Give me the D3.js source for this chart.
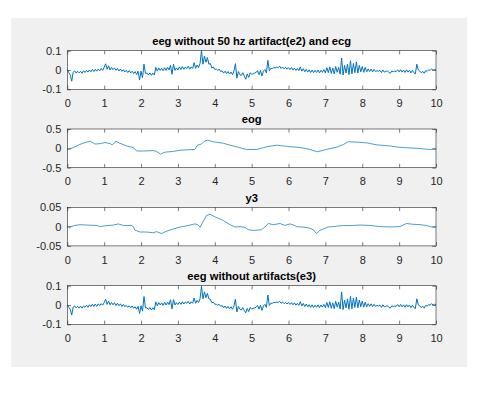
<!DOCTYPE html>
<html><head><meta charset="utf-8">
<script src="https://cdn.jsdelivr.net/npm/d3@7"></script>
<style>
html,body{margin:0;padding:0;background:#fff;}
svg{display:block;}
</style></head>
<body>
<script>
// ---------- data ----------
const titles = ["eeg without 50 hz artifact(e2) and ecg", "eog", "y3", "eeg without artifacts(e3)"];
const xTicks = [0,1,2,3,4,5,6,7,8,9,10];
const yTicks1 = [-0.1, 0, 0.1];   const yLabels1 = ["-0.1","0","0.1"];
const yTicks2 = [-0.5, 0, 0.5];   const yLabels2 = ["-0.5","0","0.5"];
const yTicks3 = [-0.05, 0, 0.05]; const yLabels3 = ["-0.05","0","0.05"];

// e2: sampled every 0.04 s from 0 to 10
const e2 = [
 0.004,-0.014,-0.025,-0.058,-0.012,-0.004,-0.016,-0.006,-0.015,-0.007,-0.017,-0.004,-0.013,-0.002,-0.011,0.0,-0.009,0.003,-0.008,0.004,-0.006,0.005,-0.004,0.008,-0.002,
 0.014,0.032,0.004,0.022,0.0,0.014,0.002,0.011,-0.002,0.008,-0.005,0.005,-0.007,0.002,-0.01,-0.001,-0.013,-0.003,-0.015,-0.006,-0.018,-0.008,-0.024,-0.006,-0.052,
 -0.006,-0.04,0.03,-0.018,-0.016,-0.026,-0.015,-0.028,-0.016,-0.026,0.014,-0.006,0.011,-0.002,0.009,-0.004,0.012,-0.002,0.014,0.0,0.025,-0.022,0.03,-0.002,0.011,
 0.0,0.016,0.002,0.018,0.004,0.015,0.008,0.02,0.004,0.016,0.008,0.038,0.008,0.026,0.012,0.034,0.1,0.03,0.072,0.04,0.065,0.03,0.034,0.01,0.016,
 0.003,0.005,-0.002,0.004,-0.008,-0.004,-0.016,-0.006,-0.019,-0.008,-0.021,-0.01,-0.024,-0.006,0.033,-0.042,-0.008,-0.025,-0.028,-0.014,-0.032,-0.048,-0.02,-0.038,-0.015,
 -0.022,-0.02,-0.016,-0.013,-0.003,-0.024,-0.002,-0.031,-0.006,0.002,-0.015,0.05,-0.004,0.008,0.008,0.012,0.011,0.016,0.012,0.02,0.008,0.016,0.006,0.014,0.004,
 0.012,0.002,0.013,0.0,0.01,-0.002,0.008,-0.003,0.016,-0.006,0.007,-0.009,0.004,-0.011,0.001,-0.013,0.0,-0.014,-0.002,-0.013,0.0,-0.015,-0.001,-0.012,0.002,
 -0.015,0.012,-0.014,0.016,-0.018,0.01,-0.02,0.018,-0.012,0.014,-0.022,0.062,-0.026,0.024,-0.016,0.03,-0.024,0.048,-0.02,0.034,-0.014,0.042,-0.016,0.024,-0.01,
 0.018,-0.012,0.014,-0.01,0.006,-0.008,0.005,-0.01,0.003,-0.008,-0.004,-0.006,-0.002,-0.013,0.0,-0.011,-0.008,-0.004,-0.013,-0.017,-0.005,-0.009,-0.006,-0.008,0.001,
 -0.01,0.002,-0.011,0.0,-0.013,0.001,-0.011,-0.001,-0.015,-0.002,-0.014,-0.02,0.03,0.0,-0.005,-0.015,-0.007,-0.017,-0.003,-0.007,0.001,-0.002,0.006,-0.001,0.003,
 0.0];

// e3: sampled every 0.04 s from 0 to 10
const e3 = [
 0.002,-0.012,-0.022,-0.052,-0.011,-0.005,-0.015,-0.007,-0.016,-0.006,-0.016,-0.005,-0.012,-0.001,-0.012,0.001,-0.008,0.004,-0.007,0.005,-0.007,0.006,-0.003,0.007,-0.001,
 0.012,0.03,0.003,0.02,0.001,0.013,0.001,0.012,-0.003,0.009,-0.004,0.006,-0.008,0.003,-0.009,-0.002,-0.012,-0.004,-0.014,-0.005,-0.017,-0.009,-0.022,-0.007,-0.044,
 -0.004,-0.032,0.044,-0.015,-0.014,-0.024,-0.013,-0.026,-0.014,-0.024,0.016,-0.004,0.013,0.0,0.011,-0.002,0.014,0.0,0.015,0.002,0.027,-0.02,0.028,0.0,0.012,
 0.002,0.015,0.003,0.017,0.005,0.016,0.009,0.019,0.005,0.017,0.009,0.036,0.009,0.024,0.013,0.032,0.098,0.032,0.068,0.038,0.06,0.032,0.03,0.012,0.014,
 0.004,0.004,-0.001,0.003,-0.007,-0.003,-0.015,-0.005,-0.018,-0.007,-0.02,-0.009,-0.022,-0.005,0.03,-0.036,-0.007,-0.022,-0.026,-0.013,-0.029,-0.04,-0.018,-0.034,-0.013,
 -0.02,-0.018,-0.015,-0.012,-0.002,-0.022,-0.001,-0.028,-0.005,0.003,-0.013,0.052,-0.002,0.009,0.009,0.013,0.012,0.015,0.013,0.019,0.009,0.015,0.007,0.013,0.005,
 0.013,0.003,0.012,0.001,0.011,-0.001,0.009,-0.002,0.017,-0.005,0.008,-0.008,0.005,-0.01,0.002,-0.012,0.001,-0.013,-0.001,-0.012,0.001,-0.014,0.0,-0.011,0.003,
 -0.014,0.013,-0.013,0.017,-0.017,0.011,-0.019,0.019,-0.011,0.015,-0.021,0.068,-0.024,0.026,-0.015,0.032,-0.022,0.045,-0.019,0.036,-0.013,0.04,-0.015,0.026,-0.009,
 0.02,-0.011,0.015,-0.009,0.007,-0.007,0.006,-0.009,0.004,-0.007,-0.003,-0.005,-0.001,-0.012,0.001,-0.01,-0.007,-0.003,-0.012,-0.016,-0.004,-0.008,-0.005,-0.007,0.002,
 -0.009,0.003,-0.01,0.001,-0.012,0.002,-0.01,0.0,-0.014,-0.001,-0.013,-0.018,0.032,0.001,-0.004,-0.014,-0.006,-0.016,-0.002,-0.006,0.002,-0.001,0.007,0.0,0.004,
 0.001];

const eogT = [0,0.16,0.34,0.52,0.63,0.75,0.89,1.02,1.16,1.22,1.32,1.43,1.61,1.79,1.88,2.06,2.33,2.42,2.53,2.65,2.88,3.06,3.24,3.46,3.53,3.64,3.71,3.8,3.96,4.23,4.5,4.86,5.14,5.41,5.68,5.95,6.31,6.58,6.78,7.03,7.31,7.49,7.62,7.85,8.12,8.39,8.75,9.02,9.48,9.84,10];
const eogV = [-0.04,0.02,0.1,0.16,0.18,0.11,0.12,0.15,0.12,0.09,0.18,0.13,0.06,0.02,-0.07,-0.07,-0.06,-0.08,-0.15,-0.1,-0.08,-0.05,-0.04,-0.03,0.08,0.11,0.18,0.21,0.17,0.13,0.06,-0.03,-0.03,0.04,0.08,0.05,0.02,-0.03,-0.09,-0.03,0.03,0.1,0.17,0.16,0.14,0.09,0.06,0.025,0.0,-0.03,-0.02];

const y3T = [0,0.07,0.21,0.34,0.52,0.8,0.89,1.07,1.25,1.38,1.52,1.74,1.79,1.83,1.97,2.15,2.33,2.42,2.56,2.69,2.88,3.06,3.24,3.46,3.54,3.6,3.69,3.78,3.87,4.01,4.23,4.41,4.55,4.68,4.82,4.91,5.05,5.27,5.36,5.45,5.59,5.77,5.9,6.04,6.18,6.22,6.36,6.54,6.67,6.76,6.85,7.08,7.31,7.49,7.67,7.94,8.21,8.48,8.75,9.02,9.2,9.38,9.57,9.75,9.89,10];
const y3V = [0.001,-0.001,0.003,0.005,0.004,0.003,0,0.0025,0.004,0.007,0.003,0.003,0,-0.009,-0.014,-0.014,-0.016,-0.013,-0.018,-0.012,-0.006,-0.001,0.002,0.007,0.005,-0.002,0.014,0.029,0.032,0.025,0.016,0.005,-0.001,0,-0.002,-0.008,-0.01,-0.008,-0.001,0.008,0.005,0.008,0.003,0.007,0.0025,0,-0.001,-0.003,-0.008,-0.018,-0.01,-0.001,0.001,0.003,0.0025,0.004,0.003,0,-0.001,0,0.008,0.006,0.005,0.0025,-0.001,0];

// ---------- layout ----------
const W = 498, H = 396;
const svg = d3.select("body").append("svg").attr("width", W).attr("height", H);
svg.append("rect").attr("x", 11).attr("y", 18).attr("width", 456).attr("height", 349).attr("fill", "#f0f0f0");

const axL = 67.3, axR = 436, axH = 38.6;
const tops = [50.7, 129.0, 207.3, 285.7];
const x = d3.scaleLinear().domain([0, 10]).range([axL, axR]);

const panels = [
  {title: titles[0], t: e2.map((_, i) => i * 0.04), v: e2, yd: [-0.1, 0.1], yt: yTicks1, yl: yLabels1, sw: 1},
  {title: titles[1], t: eogT, v: eogV, yd: [-0.5, 0.5], yt: yTicks2, yl: yLabels2, sw: 0.7},
  {title: titles[2], t: y3T, v: y3V, yd: [-0.05, 0.05], yt: yTicks3, yl: yLabels3, sw: 0.7},
  {title: titles[3], t: e3.map((_, i) => i * 0.04), v: e3, yd: [-0.1, 0.1], yt: yTicks1, yl: yLabels1, sw: 1}
];

const FONT = "'Liberation Sans', Arial, Helvetica, sans-serif";
const axisCol = "#262626";
const tick = 3.7;

panels.forEach((p, k) => {
  const top = tops[k], bot = top + axH;
  const y = d3.scaleLinear().domain(p.yd).range([bot, top]);
  const g = svg.append("g");
  g.append("rect").attr("x", axL).attr("y", top).attr("width", axR - axL).attr("height", axH).attr("fill", "#fff");

  const cid = "clip" + k;
  svg.append("clipPath").attr("id", cid).append("rect")
    .attr("x", axL).attr("y", top - 1).attr("width", axR - axL).attr("height", axH + 2);

  const line = d3.line().x((d, i) => x(p.t[i])).y(d => y(d));
  g.append("path").datum(p.v).attr("d", line).attr("fill", "none")
    .attr("stroke", "#0072BD").attr("stroke-width", p.sw).attr("stroke-linejoin", "round")
    .attr("clip-path", `url(#${cid})`);

  const styleAxis = sel => {
    sel.selectAll(".domain").remove();
    sel.selectAll("line").attr("stroke", axisCol).attr("stroke-width", 0.6);
    sel.selectAll("text").attr("fill", axisCol).style("font-family", FONT).style("font-size", "11px");
  };

  g.append("g").attr("transform", `translate(0,${bot})`)
    .call(d3.axisBottom(x).tickValues(xTicks).tickSizeInner(-tick).tickSizeOuter(0).tickPadding(10).tickFormat(d => String(d)))
    .call(styleAxis);
  g.append("g").attr("transform", `translate(0,${top})`)
    .call(d3.axisTop(x).tickValues(xTicks).tickSizeInner(-tick).tickSizeOuter(0).tickFormat(""))
    .call(styleAxis);
  g.append("g").attr("transform", `translate(${axL},0)`)
    .call(d3.axisLeft(y).tickValues(p.yt).tickSizeInner(-tick).tickSizeOuter(0).tickPadding(6).tickFormat((d, i) => p.yl[i]))
    .call(styleAxis);
  g.append("g").attr("transform", `translate(${axR},0)`)
    .call(d3.axisRight(y).tickValues(p.yt).tickSizeInner(-tick).tickSizeOuter(0).tickFormat(""))
    .call(styleAxis);

  g.append("rect").attr("x", axL).attr("y", top).attr("width", axR - axL).attr("height", axH)
    .attr("fill", "none").attr("stroke", axisCol).attr("stroke-width", 0.6);

  g.append("text").attr("x", (axL + axR) / 2).attr("y", top - 5.7)
    .attr("text-anchor", "middle").style("font-family", FONT).style("font-size", "11.2px")
    .style("font-weight", "bold").attr("fill", "#000").text(p.title);
});
</script>
</body></html>
